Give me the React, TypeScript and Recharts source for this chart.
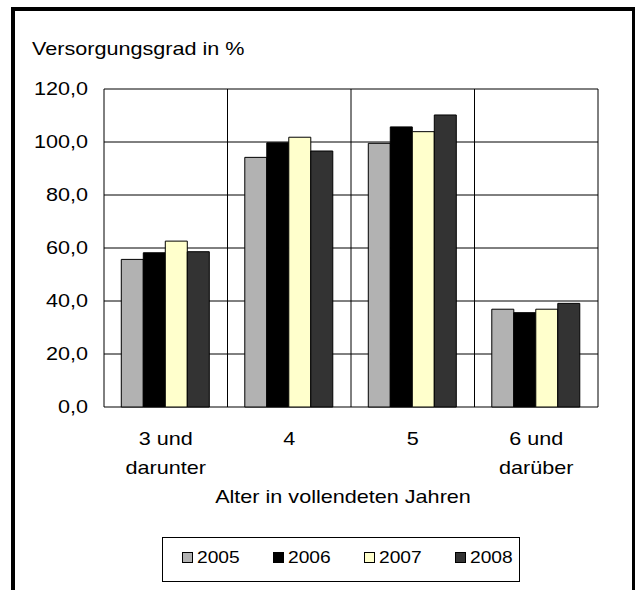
import React from 'react'
import { BarChart, Bar, XAxis, YAxis, CartesianGrid } from 'recharts'

const categories = ['3 und\ndarunter', '4', '5', '6 und\ndarüber']
const years = ['2005', '2006', '2007', '2008']
const values2005 = [55.7, 94.2, 99.5, 36.9]
const values2006 = [58.2, 99.7, 105.7, 35.6]
const values2007 = [62.6, 101.8, 103.9, 36.9]
const values2008 = [58.6, 96.6, 110.2, 39.1]
const yTicks = [0, 20, 40, 60, 80, 100, 120]
const colors = ['#B2B2B2', '#000000', '#FFFFCC', '#333333']

const seriesValues = [values2005, values2006, values2007, values2008]

const data = categories.map((name, i) => {
  const row: Record<string, string | number> = { name }
  years.forEach((year, s) => {
    row[year] = seriesValues[s][i]
  })
  return row
})

const FONT = '"Liberation Sans", Arial, sans-serif'
const STRETCH = 1.2 // the source image is stretched horizontally
const SIZE = 18

const fmt = (v: number) => v.toFixed(1).replace('.', ',')

const YTick = (props: any) => {
  const { x, y, payload } = props
  return (
    <text
      transform={`translate(${x},${y}) scale(${STRETCH},1)`}
      textAnchor="end"
      dy="0.355em"
      fontSize={SIZE}
      fontFamily={FONT}
      fill="#000"
    >
      {fmt(payload.value)}
    </text>
  )
}

const XTick = (props: any) => {
  const { x, y, payload } = props
  const lines = String(payload.value).split('\n')
  return (
    <g>
      {lines.map((line, i) => (
        <text
          key={i}
          transform={`translate(${x},${y + 38 + i * 29}) scale(${STRETCH},1)`}
          textAnchor="middle"
          fontSize={SIZE}
          fontFamily={FONT}
          fill="#000"
        >
          {line}
        </text>
      ))}
    </g>
  )
}

const Stretched = ({ x, y, anchor = 'start', size = SIZE, children }: any) => (
  <text
    transform={`translate(${x},${y}) scale(${STRETCH},1)`}
    textAnchor={anchor}
    fontSize={size}
    fontFamily={FONT}
    fill="#000"
  >
    {children}
  </text>
)

export default function App() {
  return (
    <div
      style={{
        position: 'absolute',
        left: 0,
        top: 0,
        width: 635,
        height: 590,
        overflow: 'hidden',
        background: '#fff',
      }}
    >
      <div
        style={{
          position: 'absolute',
          left: 11,
          top: 7,
          width: 624,
          height: 583,
          boxSizing: 'border-box',
          borderLeft: '4px solid #000',
          borderTop: '4px solid #000',
          borderRight: '3px solid #000',
        }}
      />
      <div style={{ position: 'absolute', left: 0, top: 0 }}>
        <BarChart
          width={635}
          height={590}
          data={data}
          margin={{ top: 89, right: 37, bottom: 123, left: 24 }}
          barCategoryGap="14%"
          barGap={0}
        >
          <CartesianGrid
            stroke="#000"
            strokeWidth={1}
            strokeOpacity={1}
            verticalCoordinatesGenerator={({ offset }: any) =>
              Array.from(
                { length: categories.length + 1 },
                (_, i) => offset.left + (i * offset.width) / categories.length
              )
            }
          />
          <XAxis
            dataKey="name"
            height={60}
            axisLine={false}
            tickLine={false}
            tickSize={0}
            tickMargin={0}
            interval={0}
            tick={<XTick />}
          />
          <YAxis
            width={80}
            domain={[0, 120]}
            ticks={yTicks}
            axisLine={false}
            tickLine={false}
            tickSize={0}
            tickMargin={16}
            interval={0}
            tick={<YTick />}
          />
          {years.map((year, i) => (
            <Bar
              key={year}
              dataKey={year}
              fill={colors[i]}
              stroke="#000"
              strokeWidth={1}
              isAnimationActive={false}
            />
          ))}
        </BarChart>
      </div>
      <svg
        width={635}
        height={590}
        style={{ position: 'absolute', left: 0, top: 0, pointerEvents: 'none' }}
      >
        <Stretched x={32} y={55}>
          Versorgungsgrad in %
        </Stretched>
        <Stretched x={343} y={503} anchor="middle">
          Alter in vollendeten Jahren
        </Stretched>
        <rect x={162.5} y={537.5} width={357} height={44} fill="#fff" stroke="#000" />
        {years.map((year, i) => {
          const sx = 182 + i * 91
          return (
            <g key={year}>
              <rect x={sx + 0.5} y={552.5} width={10} height={10} fill={colors[i]} stroke="#000" />
              <Stretched x={sx + 15} y={563} size={16}>
                {year}
              </Stretched>
            </g>
          )
        })}
      </svg>
    </div>
  )
}
